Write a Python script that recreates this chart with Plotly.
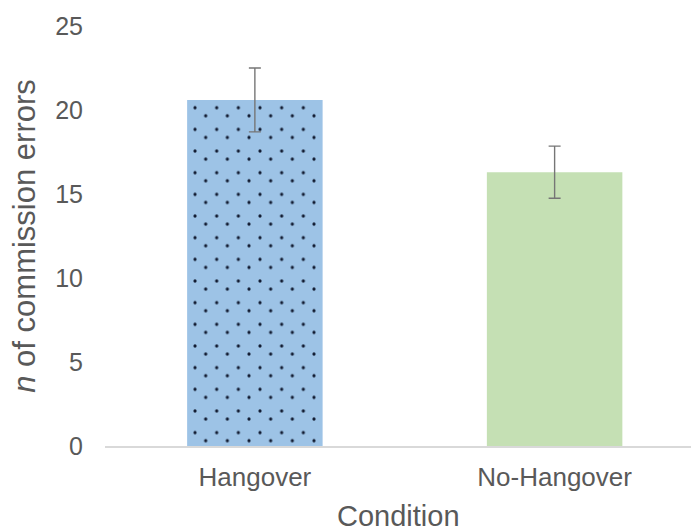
import plotly.graph_objects as go

# Data
categories = ["Hangover", "No-Hangover"]
means = [20.6, 16.3]
errors = [1.9, 1.55]
bar_colors = ["#9dc3e6", "#c5e0b4"]
y_ticks = [0, 5, 10, 15, 20, 25]

# Figure geometry (pixels)
W, H = 691, 531
L, R, T, B = 105, 0, 26, 85
PW, PH = W - L - R, H - T - B
X_RANGE = [-0.5, 1.455]
Y_RANGE = [0, 25]
BAR_WIDTH = 0.452

px_per_x = PW / (X_RANGE[1] - X_RANGE[0])
px_per_y = PH / (Y_RANGE[1] - Y_RANGE[0])


def x_val(px):
    return X_RANGE[0] + (px - L) / px_per_x


def y_val(py):
    return Y_RANGE[0] + (T + PH - py) / px_per_y


# Dot texture: staggered grid built from two offset square pattern layers
DOT_TILE = 21.66
DOT_RADIUS = 1.6
DOT_COLOR = "#111a30"
dot_solidity = 3.14159 * DOT_RADIUS ** 2 / DOT_TILE ** 2
# top-left origins of the two texture layers (pixels)
texture_origins = [(184.2, 96.9), (173.2, 86.3)]

FONT = "Liberation Sans, Arial, sans-serif"
tick_font = dict(family=FONT, size=25, color="#595959")
xtick_font = dict(family=FONT, size=26, color="#595959")
title_font = dict(family=FONT, size=29, color="#595959")

fig = go.Figure()

# coloured bars in the main subplot
fig.add_trace(go.Bar(
    x=categories, y=means, width=BAR_WIDTH,
    marker=dict(color=bar_colors, line=dict(width=0)),
    xaxis="x", yaxis="y", showlegend=False, hoverinfo="skip",
))

# dot texture on the Hangover bar, one layer per offset subplot
for i, (ox, oy) in enumerate(texture_origins):
    n = i + 2
    fig.add_trace(go.Bar(
        x=categories[:1], y=means[:1], width=BAR_WIDTH,
        marker=dict(color="rgba(0,0,0,0)", line=dict(width=0),
                    pattern=dict(shape=".", size=DOT_TILE, solidity=dot_solidity,
                                 fgcolor=DOT_COLOR, bgcolor="rgba(0,0,0,0)",
                                 fgopacity=1)),
        xaxis=f"x{n}", yaxis=f"y{n}", showlegend=False, hoverinfo="skip",
    ))
    hidden = dict(visible=False, fixedrange=True)
    fig.layout[f"xaxis{n}"] = dict(
        domain=[(ox - L) / PW, 1], range=[x_val(ox), X_RANGE[1]],
        anchor=f"y{n}", type="category",
        categoryorder="array", categoryarray=categories, **hidden)
    fig.layout[f"yaxis{n}"] = dict(
        domain=[0, (T + PH - oy) / PH], range=[Y_RANGE[0], y_val(oy)],
        anchor=f"x{n}", **hidden)

# error bars drawn on top of the texture, in the last texture subplot's coordinates
last = len(texture_origins) + 1
fig.add_trace(go.Scatter(
    x=categories, y=means, mode="markers",
    marker=dict(size=1, opacity=0),
    error_y=dict(type="data", array=errors, visible=True,
                 color="#767676", thickness=1.4, width=6),
    xaxis=f"x{last}", yaxis=f"y{last}", showlegend=False, hoverinfo="skip",
))
# make the last texture subplot tall enough for the error bar caps
top_py = 40.0
fig.layout[f"yaxis{last}"].domain = [0, (T + PH - top_py) / PH]
fig.layout[f"yaxis{last}"].range = [Y_RANGE[0], y_val(top_py)]

# x-axis title sits low against the bottom edge, so it is placed as an annotation
fig.add_annotation(
    text="Condition", xref="paper", yref="paper",
    x=0.5, y=-(516 - (T + PH)) / PH, xanchor="center", yanchor="middle",
    showarrow=False, font=title_font,
)

fig.update_layout(
    width=W, height=H,
    margin=dict(l=L, r=R, t=T, b=B, pad=0, autoexpand=False),
    paper_bgcolor="white", plot_bgcolor="rgba(0,0,0,0)",
    barmode="overlay",
    xaxis=dict(
        domain=[0, 1], range=X_RANGE, type="category",
        categoryorder="array", categoryarray=categories,
        showline=True, linecolor="#d9d9d9", linewidth=1.5,
        showgrid=False, zeroline=False, ticks="", automargin=False,
        tickfont=xtick_font, ticklabelstandoff=7,
        fixedrange=True,
    ),
    yaxis=dict(
        domain=[0, 1], range=Y_RANGE, tickvals=y_ticks,
        showline=False, showgrid=False, zeroline=False, ticks="", automargin=False,
        tickfont=tick_font, ticklabelstandoff=21,
        title=dict(text="<i>n</i> of commission errors",
                   font=dict(family=FONT, size=31, color="#595959"),
                   standoff=10),
        fixedrange=True,
    ),
)

fig.write_html("out.html")
